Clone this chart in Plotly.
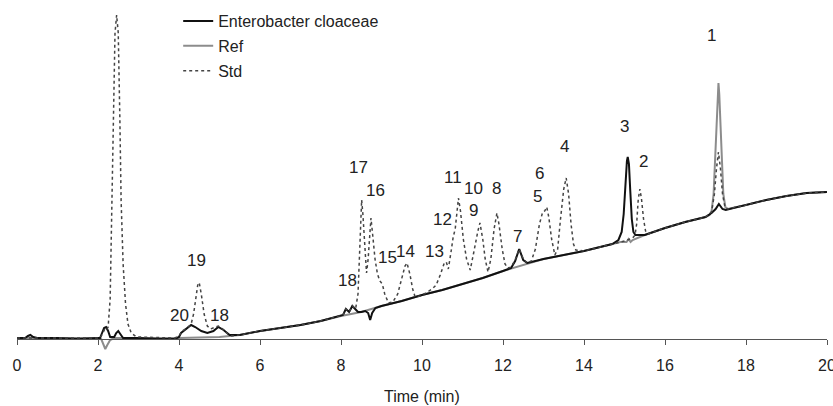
import plotly.graph_objects as go

# Chromatogram traces: (time [min], detector signal [a.u.])
entero_points = [
    (0, 1), (0.2, 1), (0.27, 3), (0.33, 4), (0.4, 2), (0.5, 1), (1, 1), (1.5, 0), (2, 1),
    (2.05, 1), (2.1, 6), (2.15, 11), (2.2, 12), (2.25, 8), (2.3, 2), (2.4, 2), (2.45, 6),
    (2.5, 8), (2.55, 5), (2.62, 1), (3, 1), (3.5, 0), (3.9, 0), (4.0, 2), (4.05, 6),
    (4.15, 9), (4.3, 14), (4.4, 12), (4.55, 8), (4.7, 6), (4.85, 8), (4.97, 12), (5.1, 9),
    (5.25, 4), (5.5, 4), (6, 8), (6.5, 11), (7, 14), (7.5, 18), (8, 23), (8.05, 24),
    (8.12, 30), (8.2, 27), (8.28, 33), (8.36, 30), (8.42, 27), (8.5, 27), (8.6, 28),
    (8.67, 26), (8.72, 19), (8.77, 26), (8.85, 31), (9, 33), (9.5, 38), (10, 44),
    (10.5, 49), (11, 55), (11.5, 61), (12, 68), (12.2, 71), (12.3, 78), (12.4, 90),
    (12.5, 79), (12.6, 76), (13, 80), (13.5, 84), (14, 88), (14.5, 93), (14.7, 95),
    (14.85, 99), (14.93, 107), (14.98, 125), (15.02, 155), (15.06, 178), (15.08, 182),
    (15.11, 175), (15.14, 150), (15.18, 120), (15.22, 107), (15.27, 104), (15.5, 104),
    (16, 111), (16.5, 117), (17, 122), (17.15, 126), (17.25, 130), (17.33, 135),
    (17.42, 130), (17.5, 129), (18, 134), (18.5, 139), (19, 143), (19.5, 146), (20, 147),
]

ref_points = [
    (0, 1), (1, 1), (2, 1), (2.08, 0), (2.13, -6), (2.18, -10), (2.23, -6), (2.3, -1),
    (2.4, 1), (3, 1), (4, 1), (5, 2), (5.5, 4), (6, 8), (6.5, 11), (7, 14), (7.5, 18),
    (8, 23), (8.5, 27), (9, 33), (9.5, 38), (10, 44), (10.5, 49), (11, 55), (11.5, 61),
    (12, 68), (12.5, 74), (13, 80), (13.5, 84), (14, 88), (14.5, 93), (14.9, 97),
    (15.05, 97), (15.1, 100), (15.15, 97), (15.2, 99), (15.5, 104), (16, 111), (16.5, 117),
    (17, 122), (17.1, 124), (17.15, 128), (17.2, 145), (17.24, 180), (17.27, 215),
    (17.3, 245), (17.32, 256), (17.34, 245), (17.37, 215), (17.4, 180), (17.44, 145),
    (17.49, 132), (17.55, 130), (18, 134), (18.5, 139), (19, 143), (19.5, 146), (20, 147),
]

std_points = [
    (0, 1), (1, 1), (2, 1), (2.05, 1), (2.12, 6), (2.18, 11), (2.22, 10), (2.25, 12),
    (2.3, 40), (2.35, 139), (2.38, 220), (2.42, 306), (2.46, 324), (2.5, 306), (2.54, 220),
    (2.57, 139), (2.62, 75), (2.68, 35), (2.74, 15), (2.82, 6), (2.95, 2), (3.5, 1),
    (3.9, 1), (4.0, 3), (4.08, 8), (4.2, 11), (4.3, 15), (4.36, 25), (4.42, 45), (4.47, 56),
    (4.5, 56), (4.55, 45), (4.62, 25), (4.7, 13), (4.78, 10), (4.88, 12), (4.97, 13),
    (5.08, 10), (5.2, 5), (5.3, 3), (5.5, 4), (6, 8), (6.5, 11), (7, 14), (7.5, 18), (8, 23),
    (8.05, 24), (8.12, 30), (8.2, 27), (8.28, 33), (8.36, 30), (8.42, 45), (8.46, 90),
    (8.49, 125), (8.51, 139), (8.54, 125), (8.58, 95), (8.63, 66), (8.67, 80), (8.71, 110),
    (8.74, 121), (8.78, 105), (8.84, 80), (8.9, 65), (8.96, 58), (9.02, 55), (9.08, 45),
    (9.17, 36), (9.28, 37), (9.4, 45), (9.5, 60), (9.58, 73), (9.63, 76), (9.7, 65),
    (9.77, 50), (9.83, 42), (9.95, 43), (10.1, 46), (10.25, 50), (10.35, 54), (10.45, 64),
    (10.55, 76), (10.6, 77), (10.65, 70), (10.72, 88), (10.77, 102), (10.82, 110),
    (10.87, 130), (10.9, 141), (10.95, 128), (11.02, 100), (11.1, 80), (11.19, 69),
    (11.27, 85), (11.33, 100), (11.38, 108), (11.43, 116), (11.5, 100), (11.56, 80),
    (11.63, 67), (11.7, 80), (11.78, 110), (11.85, 126), (11.9, 115), (11.98, 90),
    (12.05, 75), (12.12, 71), (12.2, 72), (12.3, 79), (12.4, 90), (12.5, 80), (12.6, 76),
    (12.7, 78), (12.8, 90), (12.9, 115), (12.98, 127), (13.03, 128), (13.08, 132),
    (13.13, 122), (13.2, 100), (13.28, 84), (13.35, 90), (13.42, 120), (13.5, 150),
    (13.56, 161), (13.62, 145), (13.68, 115), (13.74, 95), (13.8, 89), (14, 88), (14.5, 93),
    (15, 98), (15.2, 101), (15.26, 104), (15.3, 115), (15.34, 140), (15.38, 150),
    (15.42, 140), (15.47, 120), (15.52, 108), (15.58, 105), (16, 111), (16.5, 117),
    (17, 122), (17.15, 127), (17.22, 145), (17.27, 170), (17.32, 187), (17.37, 170),
    (17.42, 145), (17.48, 132), (17.55, 130), (18, 134), (18.5, 139), (19, 143),
    (19.5, 146), (20, 147),
]

# Peak number labels: (text, time, signal)
peak_labels = [
    ("1", 17.15, 304), ("2", 15.46, 178), ("3", 15.01, 213), ("4", 13.53, 193),
    ("5", 12.84, 143), ("6", 12.89, 166), ("7", 12.37, 103), ("8", 11.85, 151),
    ("9", 11.26, 129), ("10", 11.26, 151), ("11", 10.77, 162), ("12", 10.5, 120),
    ("13", 10.30, 88), ("14", 9.60, 88), ("15", 9.14, 82), ("16", 8.86, 149),
    ("17", 8.44, 172), ("18", 8.15, 59), ("19", 4.44, 79), ("20", 4.02, 24),
    ("18", 4.99, 24),
]

x_ticks = [0, 2, 4, 6, 8, 10, 12, 14, 16, 18, 20]

entero_time, entero_signal = [list(v) for v in zip(*entero_points)]
ref_time, ref_signal = [list(v) for v in zip(*ref_points)]
std_time, std_signal = [list(v) for v in zip(*std_points)]

FONT = "Liberation Sans, Arial, sans-serif"
Y_MIN, Y_MAX = -14, 326

fig = go.Figure()
fig.add_trace(go.Scatter(x=ref_time, y=ref_signal, mode="lines", name="Ref",
                         legendgroup="b", line=dict(color="#8c8c8c", width=2),
                         legendrank=2))
fig.add_trace(go.Scatter(x=entero_time, y=entero_signal, mode="lines",
                         name="Enterobacter cloaceae", legendgroup="a",
                         line=dict(color="#111111", width=2), legendrank=1))
fig.add_trace(go.Scatter(x=std_time, y=std_signal, mode="lines", name="Std",
                         legendgroup="c",
                         line=dict(color="#444444", width=1.5, dash="dot"), legendrank=3))

for txt, t, v in peak_labels:
    fig.add_annotation(x=t, y=v, text=txt, showarrow=False,
                       font=dict(family=FONT, size=17, color="#222222"),
                       xanchor="center", yanchor="middle")

fig.add_annotation(x=10, xref="x", y=-0.128, yref="paper", text="Time (min)",
                   showarrow=False, font=dict(family=FONT, size=16, color="#222222"),
                   xanchor="center", yanchor="middle")

fig.update_layout(
    width=833, height=406,
    margin=dict(l=17, r=6, t=13, b=53, autoexpand=False),
    paper_bgcolor="white", plot_bgcolor="white",
    template="none",
    font=dict(family=FONT, size=16, color="#222222"),
    showlegend=True,
    legend=dict(x=0.199, y=1.026, xanchor="left", yanchor="top",
                bgcolor="rgba(0,0,0,0)", borderwidth=0, tracegroupgap=1,
                font=dict(family=FONT, size=16, color="#222222")),
    xaxis=dict(range=[0, 20], tickvals=x_ticks, ticktext=[str(v) for v in x_ticks],
               showgrid=False, zeroline=False, showline=True, linecolor="#555555",
               linewidth=1, ticks="outside", ticklen=5, tickcolor="#555555",
               anchor="free", position=(0 - Y_MIN) / (Y_MAX - Y_MIN),
               ticklabelstandoff=7, automargin=False, ticklabeloverflow="allow",
               tickfont=dict(family=FONT, size=16, color="#222222")),
    yaxis=dict(range=[Y_MIN, Y_MAX], visible=False, showgrid=False, zeroline=False,
               automargin=False),
)

fig.write_html("out.html", config={"displayModeBar": False},
               post_script="document.body.style.margin='0';document.body.style.padding='0';")
